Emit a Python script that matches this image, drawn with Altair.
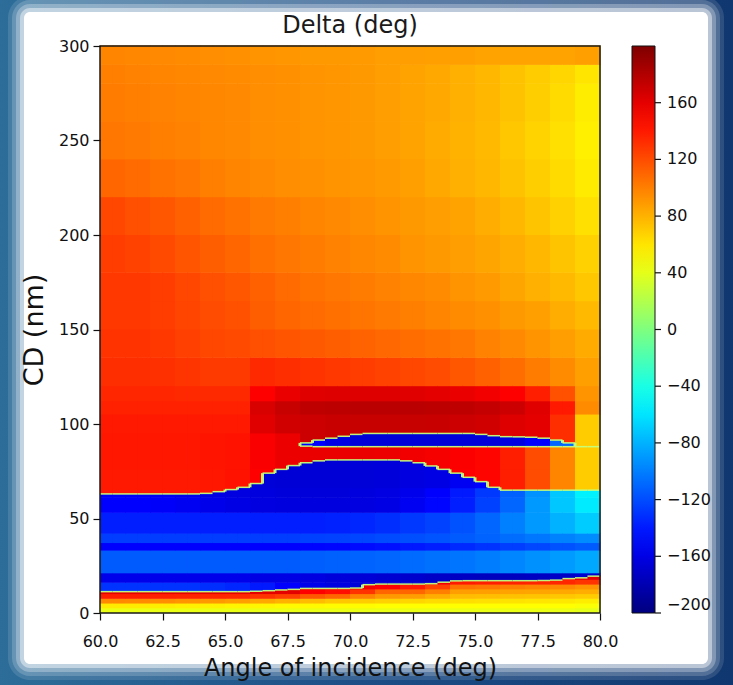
import altair as alt
import pandas as pd

# ---------------- layout ----------------
W, H = 500, 567
PAD = {"left": 100, "top": 46, "right": 133, "bottom": 72}
CBAR_X, CBAR_W = 532, 23

# ---------------- axes / colour bar ----------------
x_ticks = [60.0, 62.5, 65.0, 67.5, 70.0, 72.5, 75.0, 77.5, 80.0]
y_ticks = [0, 50, 100, 150, 200, 250, 300]
cbar_ticks = [-200, -160, -120, -80, -40, 0, 40, 80, 120, 160]
jet_stops = [-200, -150, -100, -50, 0, 50, 100, 150, 200]
jet_colors = ["#00007f", "#0000ff", "#007fff", "#00ffff", "#7fff7f",
              "#ffff00", "#ff7f00", "#ff0000", "#7f0000"]

# ---------------- grid columns ----------------
edge_angles = [60.0, 60.5, 61.0, 61.5, 62.0, 62.5, 63.0, 63.5, 64.0, 64.5,
               65.0, 65.5, 66.0, 66.5, 67.0, 67.5, 68.0, 68.5, 69.0, 69.5,
               70.0, 70.5, 71.0, 71.5, 72.0, 72.5, 73.0, 73.5, 74.0, 74.5,
               75.0, 75.5, 76.0, 76.5, 77.0, 77.5, 78.0, 78.5, 79.0, 79.5]

low_edge = [11.3, 11.3, 11.3, 11.3, 11.3, 11.3, 11.3, 11.3, 11.3, 11.3,
            11.3, 11.3, 11.5, 11.8, 12.2, 12.5, 13.0, 13.0, 13.0, 13.0,
            13.2, 15.0, 15.3, 15.3, 15.3, 15.3, 15.5, 16.3, 17.0, 17.1,
            17.1, 17.1, 17.1, 17.1, 17.1, 17.2, 17.4, 18.2, 18.6, 19.5]
mid_edge = [63.0, 63.0, 63.0, 63.0, 63.0, 63.0, 63.0, 63.0, 63.3, 64.2,
            65.3, 66.5, 68.5, 74.0, 76.0, 78.0, 79.5, 80.5, 81.0, 81.0,
            81.0, 81.0, 81.0, 81.0, 80.5, 79.5, 77.8, 76.0, 74.0, 71.8,
            69.5, 66.5, 65.0, 65.0, 65.0, 65.0, 65.0, 65.0, 65.0, 65.0]
thin_lo = [None] * 16 + [88.3] + [88.0] * 23
thin_hi = [None] * 16 + [90.0, 91.5, 92.5, 93.5, 94.5,
                         95.0, 95.0, 95.0, 95.0, 95.0, 95.0, 95.0, 95.0, 95.0,
                         94.5, 93.8, 93.3, 93.2, 93.0, 92.5, 91.5, 90.0, 88.0, 88.0]
thin_vals = [None] * 8 + [-150, -160, -165, -165, -165, -165, -165, -165, -162, -150, -110, -60]

bottom_ranges = [(0, 2.5), (2.5, 5), (5, 7.5), (7.5, 10), (10, 12.5), (12.5, 15), (15, 17.5), (17.5, 20)]
z1 = [42, 42, 42, 42, 42, 42, 42, 42, 42, 42, 42, 42, 42, 42, 42, 42, 42, 42, 42, 40]
z2 = [58, 58, 57, 56, 55, 54, 53, 52, 52, 51, 51, 50, 50, 50, 50, 50, 50, 50, 50, 48]
z3 = [96, 95, 94, 92, 90, 87, 84, 80, 76, 72, 70, 68, 66, 64, 63, 62, 61, 60, 59, 57]
z4 = [138, 138, 137, 136, 135, 134, 130, 125, 115, 110, 98, 90, 88, 82, 76, 75, 74, 73, 72, 70]
z5 = [160, 160, 160, 160, 160, 160, 160, 160, 150, 145, 130, 110, 110, 100, 88, 87, 86, 85, 84, 82]
z6 = [165, 165, 165, 165, 165, 165, 162, 160, 158, 150, 155, 150, 140, 125, 105, 103, 100, 98, 96, 92]
z7 = [165, 165, 165, 165, 165, 165, 165, 165, 165, 162, 160, 160, 158, 155, 140, 138, 137, 136, 135, 130]
z8 = [165, 165, 165, 165, 165, 165, 165, 165, 165, 165, 165, 165, 165, 165, 165, 165, 165, 160, 150, 160]
bottom_rows = [z1, z2, z3, z4, z5, z6, z7, z8]

blue_ranges = [(0, 16), (16, 21), (21, 33), (33, 37), (37, 42), (42, 53), (53, 61), (61, 66), (66, 82)]
bA = [-130, -130, -130, -130, -132, -135, -140, -150, -158, -162, -165, -165, -165, -165, -165, -165, -165, -165, -165, -165]
bB = [-158, -158, -158, -158, -158, -158, -160, -160, -162, -164, -166, -168, -170, -172, -174, -175, -175, -174, -172, -168]
bC = [-114, -114, -114, -114, -114, -114, -114, -114, -113, -112, -111, -110, -108, -106, -104, -101, -97, -93, -89, -84]
bD = [-150, -150, -150, -150, -150, -150, -150, -150, -149, -148, -146, -144, -141, -138, -134, -130, -126, -122, -118, -114]
bE = [-126, -126, -126, -126, -126, -126, -126, -126, -125, -124, -123, -121, -119, -117, -114, -111, -107, -103, -99, -95]
bF = [-138, -138, -138, -138, -138, -138, -138, -138, -138, -137, -135, -132, -128, -124, -118, -110, -100, -90, -80, -70]
bG = [-150, -150, -152, -155, -158, -160, -162, -163, -163, -163, -162, -160, -155, -148, -138, -125, -110, -90, -72, -58]
bH = [-152, -152, -154, -157, -160, -162, -163, -164, -164, -164, -163, -161, -157, -150, -140, -128, -112, -92, -72, -55]
bI = [-160, -160, -160, -160, -162, -163, -165, -166, -166, -166, -165, -164, -162, -160, -155, -150, -140, -120, -100, -80]
blue_rows = [bA, bB, bC, bD, bE, bF, bG, bH, bI]

mid_ranges = [(60, 76), (76, 95)]
mA = [140, 140, 140, 140, 141, 143, 150, 155, 157, 157, 157, 156, 154, 152, 150, 148, 138, 120, 98, 70]
mB = [141, 141, 141, 141, 142, 143, 152, 157, 158, 158, 158, 157, 155, 153, 151, 148, 138, 120, 98, 70]
mid_rows = [mA, mB]

top_ranges = [(85, 105), (105, 112), (112, 120), (120, 135), (135, 150), (150, 165), (165, 180),
              (180, 200), (200, 220), (220, 240), (240, 260), (260, 280), (280, 290), (290, 300)]
t0 = [140, 140, 140, 140, 140, 140, 162, 168, 170, 171, 172, 172, 172, 171, 170, 168, 163, 160, 132, 70]
t1 = [137, 137, 137, 137, 137, 137, 165, 172, 175, 176, 177, 177, 177, 176, 175, 173, 170, 162, 140, 95]
t2 = [135, 135, 135, 134, 134, 134, 150, 158, 162, 163, 163, 163, 162, 160, 158, 155, 150, 138, 118, 92]
t3 = [132, 132, 131, 129, 127, 127, 134, 132, 130, 128, 126, 124, 122, 120, 116, 112, 107, 101, 95, 87]
t4 = [130, 130, 128, 125, 122, 121, 119, 117, 115, 113, 111, 109, 107, 105, 103, 99, 96, 92, 88, 83]
t5 = [128, 128, 126, 123, 120, 118, 113, 110, 108, 106, 104, 102, 100, 98, 95, 93, 90, 87, 82, 77]
t6 = [128, 128, 126, 122, 119, 116, 112, 108, 105, 103, 101, 99, 97, 95, 92, 89, 85, 81, 77, 72]
t7 = [126, 124, 121, 117, 113, 110, 106, 103, 101, 99, 97, 95, 92, 90, 88, 85, 82, 78, 73, 68]
t8 = [122, 119, 116, 112, 108, 105, 102, 100, 98, 96, 94, 92, 90, 88, 86, 82, 78, 73, 68, 62]
t9 = [110, 108, 105, 103, 100, 98, 96, 94, 93, 92, 91, 89, 87, 84, 81, 78, 74, 69, 64, 58]
t10 = [103, 102, 100, 99, 97, 96, 94, 93, 92, 91, 90, 88, 86, 83, 80, 77, 72, 67, 62, 56]
t11 = [101, 100, 99, 98, 97, 96, 94, 93, 92, 91, 90, 88, 86, 84, 81, 78, 74, 69, 64, 57]
t12 = [100, 99, 98, 97, 96, 95, 94, 93, 92, 91, 90, 88, 86, 84, 81, 78, 74, 70, 66, 60]
t13 = [98, 97, 96, 95, 94, 93, 92, 91, 90, 90, 89, 88, 88, 87, 87, 86, 86, 86, 86, 87]
top_rows = [t0, t1, t2, t3, t4, t5, t6, t7, t8, t9, t10, t11, t12, t13]

# ---------------- build the cell table ----------------
cells, edges = [], []


def add_cell(a0, a1, c0, c1, v):
    if v is not None and c1 - c0 > 1e-9:
        cells.append({"a0": a0, "a1": a1, "c0": c0, "c1": c1, "v": v})


def add_edge(a0, a1, c0, c1):
    if c1 - c0 > 1e-9:
        edges.append({"a0": a0, "a1": a1, "c0": c0, "c1": c1})


for j, a0 in enumerate(edge_angles):
    a1 = a0 + 0.5
    k = j // 2
    lo, mid = low_edge[j], mid_edge[j]
    blo, bhi = thin_lo[j], thin_hi[j]
    for (r0, r1), row in zip(bottom_ranges, bottom_rows):
        add_cell(a0, a1, r0, min(r1, lo), row[k])
    for (r0, r1), row in zip(blue_ranges, blue_rows):
        add_cell(a0, a1, max(r0, lo), min(r1, mid), row[k])
    mid_top = blo if blo is not None else 95.0
    for (r0, r1), row in zip(mid_ranges, mid_rows):
        add_cell(a0, a1, max(r0, mid), min(r1, mid_top), row[k])
    if blo is not None:
        add_cell(a0, a1, blo, bhi, thin_vals[k])
    top_start = bhi if blo is not None else 95.0
    for (r0, r1), row in zip(top_ranges, top_rows):
        add_cell(a0, a1, max(r0, top_start), r1, row[k])

LINE = 0.4
for j, a0 in enumerate(edge_angles):
    a1 = a0 + 0.5
    lines = [low_edge[j], mid_edge[j]]
    if thin_lo[j] is not None:
        lines.append(thin_lo[j])
        if thin_hi[j] > thin_lo[j]:
            lines.append(thin_hi[j])
    for e in lines:
        add_edge(a0, a1, e - LINE, e + LINE)
for arr in (low_edge, mid_edge, thin_hi):
    for j in range(len(edge_angles) - 1):
        e0, e1 = arr[j], arr[j + 1]
        if e0 is None or e1 is None:
            continue
        if abs(e1 - e0) > 1.0:
            xb = edge_angles[j + 1]
            add_edge(xb - 0.06, xb + 0.06, min(e0, e1), max(e0, e1))
for j in range(1, len(edge_angles)):
    if thin_hi[j] is not None and thin_hi[j - 1] is None:
        xb = edge_angles[j]
        add_edge(xb - 0.06, xb + 0.06, thin_lo[j], thin_hi[j])

heat_df = pd.DataFrame(cells)
edge_df = pd.DataFrame(edges)
frame_df = pd.DataFrame({"a0": [60.0], "a1": [80.0], "c0": [0.0], "c1": [300.0]})
tick_df = pd.DataFrame({"t": cbar_ticks})
one = pd.DataFrame({"d": [0]})

# ---------------- encodings ----------------
color_scale = alt.Scale(domain=jet_stops, range=jet_colors, interpolate="rgb")
xs = alt.Scale(domain=[60, 80], nice=False, zero=False)
ys = alt.Scale(domain=[0, 300], nice=False, zero=False)

x_axis = alt.Axis(values=x_ticks, format=".1f", title="Angle of incidence (deg)",
                  labelFontSize=16, titleFontSize=24, titleFontWeight="normal",
                  tickSize=7, tickWidth=1.2, labelPadding=13, titlePadding=7, grid=False,
                  domain=False, labelFlush=False, zindex=2,
                  tickColor="#111111", labelColor="#111111", titleColor="#111111")
y_axis = alt.Axis(values=y_ticks, format="d", title="CD (nm)",
                  labelFontSize=16, titleFontSize=27, titleFontWeight="normal",
                  tickSize=7, tickWidth=1.2, labelPadding=4, titlePadding=10, grid=False,
                  domain=False, zindex=2,
                  tickColor="#111111", labelColor="#111111", titleColor="#111111")

legend = alt.Legend(title=None, type="gradient", orient="none", legendX=CBAR_X, legendY=0,
                    direction="vertical", gradientLength=H, gradientThickness=CBAR_W,
                    values=cbar_ticks, format="d", labelFontSize=16, labelOffset=12,
                    labelColor="#111111",
                    gradientStrokeColor="#111111", gradientStrokeWidth=1)

# ---------------- decorative frame ----------------
bg = alt.Chart(one).mark_rect(
    color=alt.LinearGradient(
        gradient="linear", x1=0, x2=1, y1=0, y2=0,
        stops=[alt.GradientStop(color="#2d6d99", offset=0),
               alt.GradientStop(color="#1d4e86", offset=0.5),
               alt.GradientStop(color="#10376f", offset=1)])
).encode(x=alt.value(-PAD["left"]), x2=alt.value(W + PAD["right"]),
         y=alt.value(-PAD["top"]), y2=alt.value(H + PAD["bottom"]))

panel = (24, 12, 708, 664)  # page box of the white panel
glow_steps = [(16, 0.12), (12, 0.18), (8, 0.28), (4, 0.45), (0, 1.0)]
glows = []
for grow, op in glow_steps:
    glows.append(
        alt.Chart(one).mark_rect(color="white", opacity=op, cornerRadius=6 + grow).encode(
            x=alt.value(panel[0] - grow - PAD["left"]),
            x2=alt.value(panel[2] + grow - PAD["left"]),
            y=alt.value(panel[1] - grow - PAD["top"]),
            y2=alt.value(panel[3] + grow - PAD["top"]),
        )
    )

title_layer = alt.Chart(one).mark_text(
    text="Delta (deg)", fontSize=24, color="#1a1a1a", align="center", baseline="alphabetic"
).encode(x=alt.value(W / 2), y=alt.value(-13))

# ---------------- data layers ----------------
heat = alt.Chart(heat_df).transform_calculate(
    a1x="datum.a1 + 0.025", c1x="datum.c1 + 0.3"
).mark_rect().encode(
    x=alt.X("a0:Q", scale=xs, axis=x_axis), x2="a1x:Q",
    y=alt.Y("c0:Q", scale=ys, axis=y_axis), y2="c1x:Q",
    color=alt.Color("v:Q", scale=color_scale, legend=legend),
)

edge_layer = alt.Chart(edge_df).mark_rect(color="#c4ff7a", opacity=0.95).encode(
    x=alt.X("a0:Q", scale=xs, axis=x_axis), x2="a1:Q",
    y=alt.Y("c0:Q", scale=ys, axis=y_axis), y2="c1:Q",
)

border = alt.Chart(frame_df).mark_rect(filled=False, stroke="#1a1a1a", strokeWidth=1.5).encode(
    x=alt.X("a0:Q", scale=xs, axis=x_axis), x2="a1:Q",
    y=alt.Y("c0:Q", scale=ys, axis=y_axis), y2="c1:Q",
)

main = alt.layer(bg, *glows, title_layer, heat, edge_layer, border)

# small tick marks on the right side of the colour bar
cbar_tick_layer = alt.Chart(tick_df).mark_rule(color="#111111", strokeWidth=1.2).encode(
    y=alt.Y("t:Q", scale=alt.Scale(domain=[-200, 200], nice=False, zero=False), axis=None),
    x=alt.value(CBAR_X + CBAR_W), x2=alt.value(CBAR_X + CBAR_W + 6),
)

chart = alt.layer(main, cbar_tick_layer).resolve_scale(y="independent").properties(
    width=W, height=H, padding=PAD,
    autosize=alt.AutoSizeParams(type="none"),
).configure(font="DejaVu Sans").configure_view(strokeWidth=0).configure_legend(
    gradientVerticalMaxLength=700
)

chart.save("out.html", embed_options={"renderer": "svg", "actions": False})
